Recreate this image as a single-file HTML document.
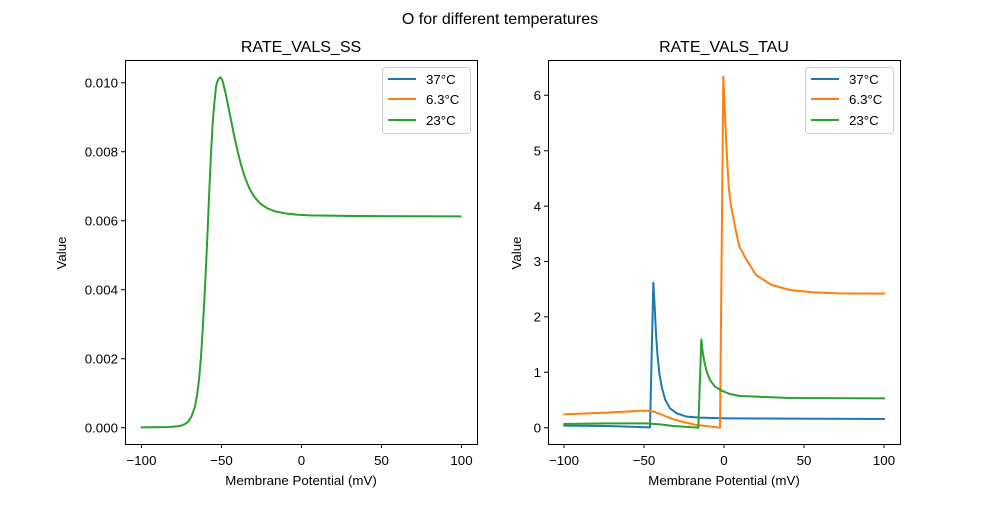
<!DOCTYPE html><html><head><style>body{margin:0;background:#fff}svg{font-family:"Liberation Sans","DejaVu Sans",sans-serif}</style></head><body>
<svg width="1000" height="500" xmlns="http://www.w3.org/2000/svg">
<rect width="1000" height="500" fill="#fff"/>
<text x="500" y="24" font-size="16" text-anchor="middle">O for different temperatures</text>
<text x="301" y="52" font-size="16" text-anchor="middle">RATE_VALS_SS</text>
<text x="724" y="52" font-size="16" text-anchor="middle">RATE_VALS_TAU</text>
<g fill="none" stroke-width="2" stroke-linejoin="round">
<g transform="translate(120,40) scale(0.33333)">
<polyline vector-effect="non-scaling-stroke" stroke="#2ca02c" points="62,1162 150,1161 180,1158 195,1152 205,1145 215,1128 225,1100 232,1060 238,1010 243,950 248,870 253,780 258,680 263,570 268,450 273,340 278,250 283,190 288,140 292,125 297,115 302,112 307,120 312,140 318,165 325,200 333,240 342,285 352,330 362,370 374,410 388,445 404,472 422,492 442,505 465,514 495,520 530,524 570,526 620,527 700,528 1024,529"/>
</g>
<g transform="translate(540,40) scale(0.33333)">
<polyline vector-effect="non-scaling-stroke" stroke="#1f77b4" points="70,1157 200,1158 330,1162 340,728 344,800 348,880 352,940 358,1000 366,1045 376,1080 390,1105 410,1120 440,1130 480,1133 560,1135 1035,1137"/>
<polyline vector-effect="non-scaling-stroke" stroke="#ff7f0e" points="70,1123 200,1118 310,1112 330,1113 345,1116 360,1122 380,1130 400,1138 430,1146 470,1155 540,1163 550,110 554,200 558,290 562,370 566,440 572,490 585,560 598,620 620,660 648,705 695,735 750,750 820,757 900,760 1035,761"/>
<polyline vector-effect="non-scaling-stroke" stroke="#2ca02c" points="70,1152 200,1150 320,1150 360,1153 400,1158 475,1163 484,898 488,935 493,965 500,995 510,1020 525,1040 545,1052 570,1062 600,1068 750,1074 1035,1075"/>
</g>
</g>
<g fill="none" stroke="#000" stroke-width="1">
<rect x="125.5" y="60.5" width="352" height="384"/>
<rect x="548.5" y="60.5" width="352" height="384"/>
<path d="M141.5,444v4M221.5,444v4M301.5,444v4M381.5,444v4M461.5,444v4M125,427.7h-4M125,358.7h-4M125,289.7h-4M125,220.7h-4M125,151.7h-4M125,82.7h-4M564,444v4M644,444v4M724,444v4M804,444v4M884,444v4M548,427.7h-4M548,372.3h-4M548,316.9h-4M548,261.5h-4M548,206.1h-4M548,150.7h-4M548,95.3h-4"/>
</g>
<g font-size="13.3" text-anchor="middle">
<text x="141.5" y="465">−100</text><text x="221.5" y="465">−50</text><text x="301.5" y="465">0</text><text x="381.5" y="465">50</text><text x="461.5" y="465">100</text>
<text x="564" y="465">−100</text><text x="644" y="465">−50</text><text x="724" y="465">0</text><text x="804" y="465">50</text><text x="884" y="465">100</text>
<text x="301" y="485">Membrane Potential (mV)</text><text x="724" y="485">Membrane Potential (mV)</text>
</g>
<g font-size="13.3" text-anchor="end">
<text x="118" y="432.5">0.000</text><text x="118" y="363.5">0.002</text><text x="118" y="294.5">0.004</text><text x="118" y="225.5">0.006</text><text x="118" y="156.5">0.008</text><text x="118" y="87.5">0.010</text>
<text x="541" y="432.5">0</text><text x="541" y="377">1</text><text x="541" y="321.5">2</text><text x="541" y="266">3</text><text x="541" y="211">4</text><text x="541" y="155.5">5</text><text x="541" y="100">6</text>
</g>
<text font-size="13.3" text-anchor="middle" transform="translate(66,253) rotate(-90)">Value</text>
<text font-size="13.3" text-anchor="middle" transform="translate(521,253) rotate(-90)">Value</text>
<g font-size="13.3">
<rect x="382.5" y="67.5" width="88" height="66" rx="3" fill="#fff" stroke="#ccc"/>
<line x1="388" x2="416" y1="79" y2="79" stroke="#1f77b4" stroke-width="2"/><text x="426" y="84">37°C</text>
<line x1="388" x2="416" y1="99" y2="99" stroke="#ff7f0e" stroke-width="2"/><text x="426" y="104">6.3°C</text>
<line x1="388" x2="416" y1="120" y2="120" stroke="#2ca02c" stroke-width="2"/><text x="426" y="125">23°C</text>
<rect x="805.5" y="67.5" width="88" height="66" rx="3" fill="#fff" stroke="#ccc"/>
<line x1="811" x2="839" y1="79" y2="79" stroke="#1f77b4" stroke-width="2"/><text x="849" y="84">37°C</text>
<line x1="811" x2="839" y1="99" y2="99" stroke="#ff7f0e" stroke-width="2"/><text x="849" y="104">6.3°C</text>
<line x1="811" x2="839" y1="120" y2="120" stroke="#2ca02c" stroke-width="2"/><text x="849" y="125">23°C</text>
</g>
</svg></body></html>
